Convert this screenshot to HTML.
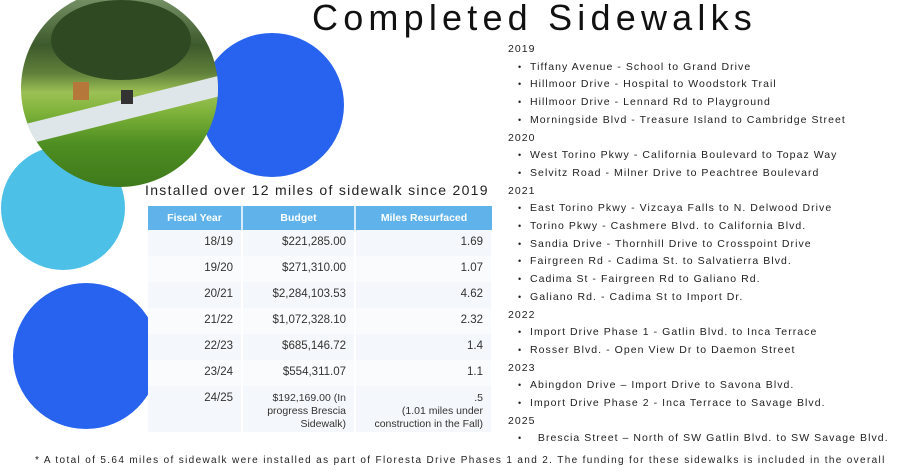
<!DOCTYPE html>
<html><head><meta charset="utf-8"><style>
*{margin:0;padding:0;box-sizing:border-box}
body{width:899px;height:472px;background:#fff;position:relative;overflow:hidden;font-family:"Liberation Sans",sans-serif;color:#222}
.abs{position:absolute}
.circ{position:absolute;border-radius:50%}
.title{left:312px;top:-3px;font-size:36px;letter-spacing:5.2px;color:#111;white-space:nowrap}
.list{left:508px;top:41px;font-size:10.5px;letter-spacing:1.05px;line-height:17.7px;color:#222;white-space:nowrap}
.list .it{padding-left:10px}
.list .it:before{content:"•";display:inline-block;width:12px;font-size:9px}
table{position:absolute;left:148px;top:206px;width:345px;border-collapse:collapse;font-size:11.5px;color:#333}
th{background:#5fb3ea;color:#fff;font-weight:bold;font-size:10.5px;height:24px;border-right:2px solid #d8ecf9;text-align:center}
th:last-child{border-right:none}
td{text-align:right;padding:0 8px 0 0;height:26px;vertical-align:top;padding-top:6px;border-right:2px solid #fff}
tr:nth-child(even) td{background:#f4f7fb}
tr:nth-child(odd) td{background:#fafbfd}
.sub{left:145px;top:182px;font-size:14px;letter-spacing:1.3px;color:#222;white-space:nowrap}
.foot{left:35px;top:455px;font-size:10px;letter-spacing:1.35px;color:#222;white-space:nowrap}
.sm{font-size:10.5px;line-height:13px}
</style></head><body>
<div class="circ" style="left:1px;top:146px;width:124px;height:124px;background:#4dc0e8"></div>
<div class="circ" style="left:200px;top:33px;width:144px;height:144px;background:#2763ee"></div>
<div class="abs" style="left:0;top:283px;width:148px;height:146px;overflow:hidden">
 <div class="circ" style="left:13px;top:0;width:146px;height:146px;background:#2763ee"></div>
</div>
<div class="circ" style="left:21px;top:-10px;width:197px;height:197px;overflow:hidden;background:linear-gradient(180deg,#7f9a70 0%,#3d5a2c 28%,#5f7f3a 42%,#9cc055 52%,#7fb33a 62%,#4e8e22 78%,#3f7a1b 100%)">
 <div class="abs" style="left:-20px;top:108px;width:260px;height:20px;background:#dfe6ea;transform:rotate(-14deg)"></div>
 <div class="abs" style="left:30px;top:10px;width:140px;height:80px;border-radius:50%;background:#2f4a22"></div>
 <div class="abs" style="left:100px;top:100px;width:12px;height:14px;background:#333"></div>
 <div class="abs" style="left:52px;top:92px;width:16px;height:18px;background:#b5773a"></div>
</div>
<div class="abs title">Completed Sidewalks</div>
<div class="abs sub">Installed over 12 miles of sidewalk since 2019</div>
<table>
<tr><th style="width:94px">Fiscal Year</th><th style="width:113px">Budget</th><th>Miles Resurfaced</th></tr>
<tr><td>18/19</td><td>$221,285.00</td><td>1.69</td></tr>
<tr><td>19/20</td><td>$271,310.00</td><td>1.07</td></tr>
<tr><td>20/21</td><td>$2,284,103.53</td><td>4.62</td></tr>
<tr><td>21/22</td><td>$1,072,328.10</td><td>2.32</td></tr>
<tr><td>22/23</td><td>$685,146.72</td><td>1.4</td></tr>
<tr><td>23/24</td><td>$554,311.07</td><td>1.1</td></tr>
<tr><td style="height:46px">24/25</td><td class="sm">$192,169.00 (In<br>progress Brescia<br>Sidewalk)</td><td class="sm">.5<br>(1.01 miles under<br>construction in the Fall)</td></tr>
</table>
<div class="abs list">
<div>2019</div>
<div class="it">Tiffany Avenue - School to Grand Drive</div>
<div class="it">Hillmoor Drive - Hospital to Woodstork Trail</div>
<div class="it">Hillmoor Drive - Lennard Rd to Playground</div>
<div class="it">Morningside Blvd - Treasure Island to Cambridge Street</div>
<div>2020</div>
<div class="it">West Torino Pkwy - California Boulevard to Topaz Way</div>
<div class="it">Selvitz Road - Milner Drive to Peachtree Boulevard</div>
<div>2021</div>
<div class="it">East Torino Pkwy - Vizcaya Falls to N. Delwood Drive</div>
<div class="it">Torino Pkwy - Cashmere Blvd. to California Blvd.</div>
<div class="it">Sandia Drive - Thornhill Drive to Crosspoint Drive</div>
<div class="it">Fairgreen Rd - Cadima St. to Salvatierra Blvd.</div>
<div class="it">Cadima St - Fairgreen Rd to Galiano Rd.</div>
<div class="it">Galiano Rd. - Cadima St to Import Dr.</div>
<div>2022</div>
<div class="it">Import Drive Phase 1 - Gatlin Blvd. to Inca Terrace</div>
<div class="it">Rosser Blvd. - Open View Dr to Daemon Street</div>
<div>2023</div>
<div class="it">Abingdon Drive – Import Drive to Savona Blvd.</div>
<div class="it">Import Drive Phase 2 - Inca Terrace to Savage Blvd.</div>
<div>2025</div>
<div class="it">&nbsp;&nbsp;Brescia Street – North of SW Gatlin Blvd. to SW Savage Blvd.</div>
</div>
<div class="abs foot">* A total of 5.64 miles of sidewalk were installed as part of Floresta Drive Phases 1 and 2. The funding for these sidewalks is included in the overall</div>
</body></html>
